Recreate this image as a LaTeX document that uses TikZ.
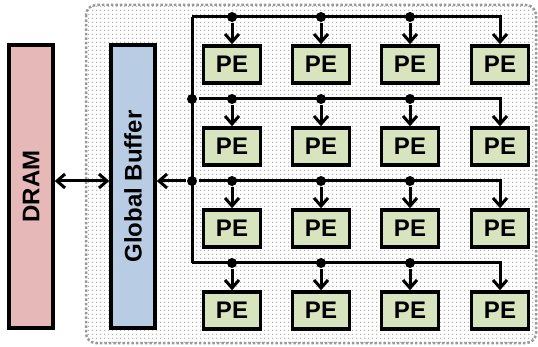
\documentclass[tikz,border=0pt]{standalone}
\usepackage{fontspec}
\setmainfont{Liberation Sans}
\usetikzlibrary{arrows.meta,patterns}
\definecolor{dramrot}{RGB}{230,184,183}
\definecolor{pufferblau}{RGB}{184,204,228}
\definecolor{pegruen}{RGB}{215,228,189}
\pgfdeclarepatternformonly{punkte}{\pgfpointorigin}{\pgfqpoint{4pt}{4pt}}{\pgfqpoint{4pt}{4pt}}{%
  \pgfpathcircle{\pgfqpoint{1pt}{1pt}}{0.8pt}\pgfusepath{fill}}
\tikzset{pe/.style={draw,line width=3.5pt,fill=pegruen,minimum width=57pt,minimum height=37pt,inner sep=0pt,
                    font=\bfseries\fontsize{24}{28}\selectfont},
         speicher/.style={draw,line width=3.5pt,rotate=90,minimum width=283pt,minimum height=44pt,inner sep=0pt,
                    font=\bfseries\fontsize{24}{28}\selectfont},
         punkt/.style={circle,fill=black,inner sep=0pt,minimum size=10pt}}

\begin{document}
\begin{tikzpicture}[x=1pt,y=-1pt,line width=3pt,>={Straight Barb[length=8pt,width=14pt]}]
    \useasboundingbox (0,0) rectangle (538,347);
    % Rahmen
    \draw [gray!80, line width=2.5pt, dotted, rounded corners=10pt, pattern=punkte, pattern color=black!40]
          (86,5) rectangle (536,343);

    \path node [speicher, fill=dramrot] (dram) at (31,186.5) {DRAM}
          node [speicher, fill=pufferblau] (gb) at (133,186.5) {Global Buffer}

          node [pe] (11) at (232,64.5) {PE}
          node [pe] (12) at (321,64.5) {PE}
          node [pe] (13) at (410,64.5) {PE}
          node [pe] (14) at (500,64.5) {PE}

          node [pe] (21) at (232,146.5) {PE}
          node [pe] (22) at (321,146.5) {PE}
          node [pe] (23) at (410,146.5) {PE}
          node [pe] (24) at (500,146.5) {PE}

          node [pe] (31) at (232,228.5) {PE}
          node [pe] (32) at (321,228.5) {PE}
          node [pe] (33) at (410,228.5) {PE}
          node [pe] (34) at (500,228.5) {PE}

          node [pe] (41) at (232,310.5) {PE}
          node [pe] (42) at (321,310.5) {PE}
          node [pe] (43) at (410,310.5) {PE}
          node [pe] (44) at (500,310.5) {PE};

    % Bus
    \coordinate (b10) at (192,17);
    \coordinate (b40) at (192,263);
    \path node [punkt] (b20) at (192,99)  {}
          node [punkt] (b30) at (192,181) {}
          node [punkt] (b11) at (232,17)  {}
          node [punkt] (b12) at (321,17)  {}
          node [punkt] (b13) at (410,17)  {}
          node [punkt] (b21) at (232,99)  {}
          node [punkt] (b22) at (321,99)  {}
          node [punkt] (b23) at (410,99)  {}
          node [punkt] (b31) at (232,181) {}
          node [punkt] (b32) at (321,181) {}
          node [punkt] (b33) at (410,181) {}
          node [punkt] (b41) at (232,263) {}
          node [punkt] (b42) at (321,263) {}
          node [punkt] (b43) at (410,263) {};

    \draw (b10) -- (b40);
    \draw [->] (b10) -| (14);
    \draw [->] (b20) -| (24);
    \draw [->] (b30) -| (34);
    \draw [->] (b40) -| (44);

    \draw [->] (b11) -- (11);
    \draw [->] (b12) -- (12);
    \draw [->] (b13) -- (13);
    \draw [->] (b21) -- (21);
    \draw [->] (b22) -- (22);
    \draw [->] (b23) -- (23);
    \draw [->] (b31) -- (31);
    \draw [->] (b32) -- (32);
    \draw [->] (b33) -- (33);
    \draw [->] (b41) -- (41);
    \draw [->] (b42) -- (42);
    \draw [->] (b43) -- (43);

    \draw [->] (b30) -- (gb.south |- b30);
    \draw [<->] (dram.south |- b30) -- (gb.north |- b30);
\end{tikzpicture}
\end{document}
